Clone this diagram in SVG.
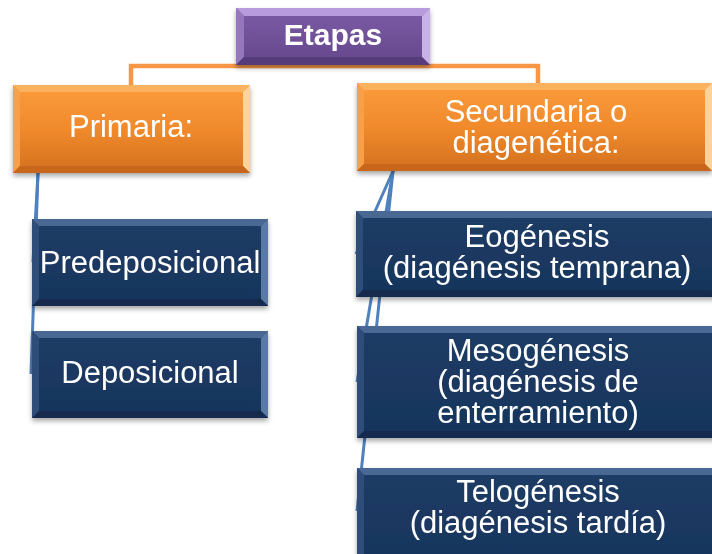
<svg xmlns="http://www.w3.org/2000/svg" width="712" height="554" viewBox="0 0 712 554">
<defs>
<linearGradient id="gOr" x1="0" y1="0" x2="0" y2="1"><stop offset="0" stop-color="#fb9c3c"/><stop offset="0.5" stop-color="#f08a2c"/><stop offset="1" stop-color="#d3701f"/></linearGradient>
<linearGradient id="gPu" x1="0" y1="0" x2="0" y2="1"><stop offset="0" stop-color="#7c5ca6"/><stop offset="1" stop-color="#65478c"/></linearGradient>
<linearGradient id="gNv" x1="0" y1="0" x2="0" y2="1"><stop offset="0" stop-color="#1e3c66"/><stop offset="1" stop-color="#17355c"/></linearGradient>
<filter id="sh" x="-10%" y="-10%" width="120%" height="130%"><feDropShadow dx="0" dy="3" stdDeviation="2.5" flood-color="#000" flood-opacity="0.35"/></filter>
</defs>
<style>
.t{font-family:"Liberation Sans",Arial,sans-serif;font-size:31px;fill:#fff;text-anchor:middle}
.b{font-weight:bold;font-size:30px}
.or .m{fill:url(#gOr)} .or .bt{fill:#fbb25e} .or .bl{fill:#f7a04a} .or .br{fill:#fdd39a} .or .bb{fill:#c8661a}
.pu .m{fill:url(#gPu)} .pu .bt{fill:#b79bdc} .pu .bl{fill:#9477bd} .pu .br{fill:#c9b3e6} .pu .bb{fill:#553a7a}
.nv .m{fill:url(#gNv)} .nv .bt{fill:#4a6994} .nv .bl{fill:#2e4d78} .nv .br{fill:#5a7aa6} .nv .bb{fill:#122c4e}
.co{fill:none;stroke:#f79646;stroke-width:4.5}
.cb{fill:none;stroke:#4f81bd;stroke-width:3}
</style>
<g id="connectors">
<polyline class="co" points="131,85 131,66 538,66 538,83"/>
<line class="cb" x1="38" y1="173" x2="33" y2="262"/>
<line class="cb" x1="38" y1="173" x2="31" y2="374"/>
<line class="cb" x1="393" y1="171" x2="356" y2="254"/>
<line class="cb" x1="393" y1="171" x2="357" y2="382"/>
<line class="cb" x1="393" y1="171" x2="357" y2="511"/>
</g>
<g id="etapas" class="pu" filter="url(#sh)">
<rect class="m" x="236" y="8" width="194" height="57"/>
<polygon class="bt" points="236,8 430,8 422,16 244,16"/>
<polygon class="bl" points="236,8 244,16 244,57 236,65"/>
<polygon class="br" points="430,8 430,65 422,57 422,16"/>
<polygon class="bb" points="236,65 430,65 422,57 244,57"/>
<text class="t b" x="333" y="45">Etapas</text>
</g>
<g id="primaria" class="or" filter="url(#sh)">
<rect class="m" x="13" y="85" width="237" height="88"/>
<polygon class="bt" points="13,85 250,85 243,92 20,92"/>
<polygon class="bl" points="13,85 20,92 20,166 13,173"/>
<polygon class="br" points="250,85 250,173 243,166 243,92"/>
<polygon class="bb" points="13,173 250,173 243,166 20,166"/>
<text class="t" x="131" y="137">Primaria:</text>
</g>
<g id="secundaria" class="or" filter="url(#sh)">
<rect class="m" x="357" y="83" width="355" height="88"/>
<polygon class="bt" points="357,83 712,83 705,90 364,90"/>
<polygon class="bl" points="357,83 364,90 364,164 357,171"/>
<polygon class="br" points="712,83 712,171 705,164 705,90"/>
<polygon class="bb" points="357,171 712,171 705,164 364,164"/>
<text class="t" x="536" y="122">Secundaria o</text>
<text class="t" x="536" y="153">diagenética:</text>
</g>
<g id="predeposicional" class="nv" filter="url(#sh)">
<rect class="m" x="32" y="219" width="236" height="87"/>
<polygon class="bt" points="32,219 268,219 261,226 39,226"/>
<polygon class="bl" points="32,219 39,226 39,299 32,306"/>
<polygon class="br" points="268,219 268,306 261,299 261,226"/>
<polygon class="bb" points="32,306 268,306 261,299 39,299"/>
<text class="t" x="150" y="273">Predeposicional</text>
</g>
<g id="deposicional" class="nv" filter="url(#sh)">
<rect class="m" x="32" y="331" width="236" height="87"/>
<polygon class="bt" points="32,331 268,331 261,338 39,338"/>
<polygon class="bl" points="32,331 39,338 39,411 32,418"/>
<polygon class="br" points="268,331 268,418 261,411 261,338"/>
<polygon class="bb" points="32,418 268,418 261,411 39,411"/>
<text class="t" x="150" y="383">Deposicional</text>
</g>
<g id="eogenesis" class="nv" filter="url(#sh)">
<rect class="m" x="356" y="211" width="362" height="86"/>
<polygon class="bt" points="356,211 718,211 711,218 363,218"/>
<polygon class="bl" points="356,211 363,218 363,290 356,297"/>
<polygon class="bb" points="356,297 718,297 711,290 363,290"/>
<text class="t" x="537" y="247">Eogénesis</text>
<text class="t" x="537" y="278">(diagénesis temprana)</text>
</g>
<g id="mesogenesis" class="nv" filter="url(#sh)">
<rect class="m" x="357" y="326" width="362" height="112"/>
<polygon class="bt" points="357,326 719,326 712,333 364,333"/>
<polygon class="bl" points="357,326 364,333 364,431 357,438"/>
<polygon class="bb" points="357,438 719,438 712,431 364,431"/>
<text class="t" x="538" y="361">Mesogénesis</text>
<text class="t" x="538" y="392">(diagénesis de</text>
<text class="t" x="538" y="423">enterramiento)</text>
</g>
<g id="telogenesis" class="nv" filter="url(#sh)">
<rect class="m" x="357" y="468" width="362" height="100"/>
<polygon class="bt" points="357,468 719,468 712,475 364,475"/>
<polygon class="bl" points="357,468 364,475 364,561 357,568"/>
<text class="t" x="538" y="502">Telogénesis</text>
<text class="t" x="538" y="533">(diagénesis tardía)</text>
</g>
</svg>
